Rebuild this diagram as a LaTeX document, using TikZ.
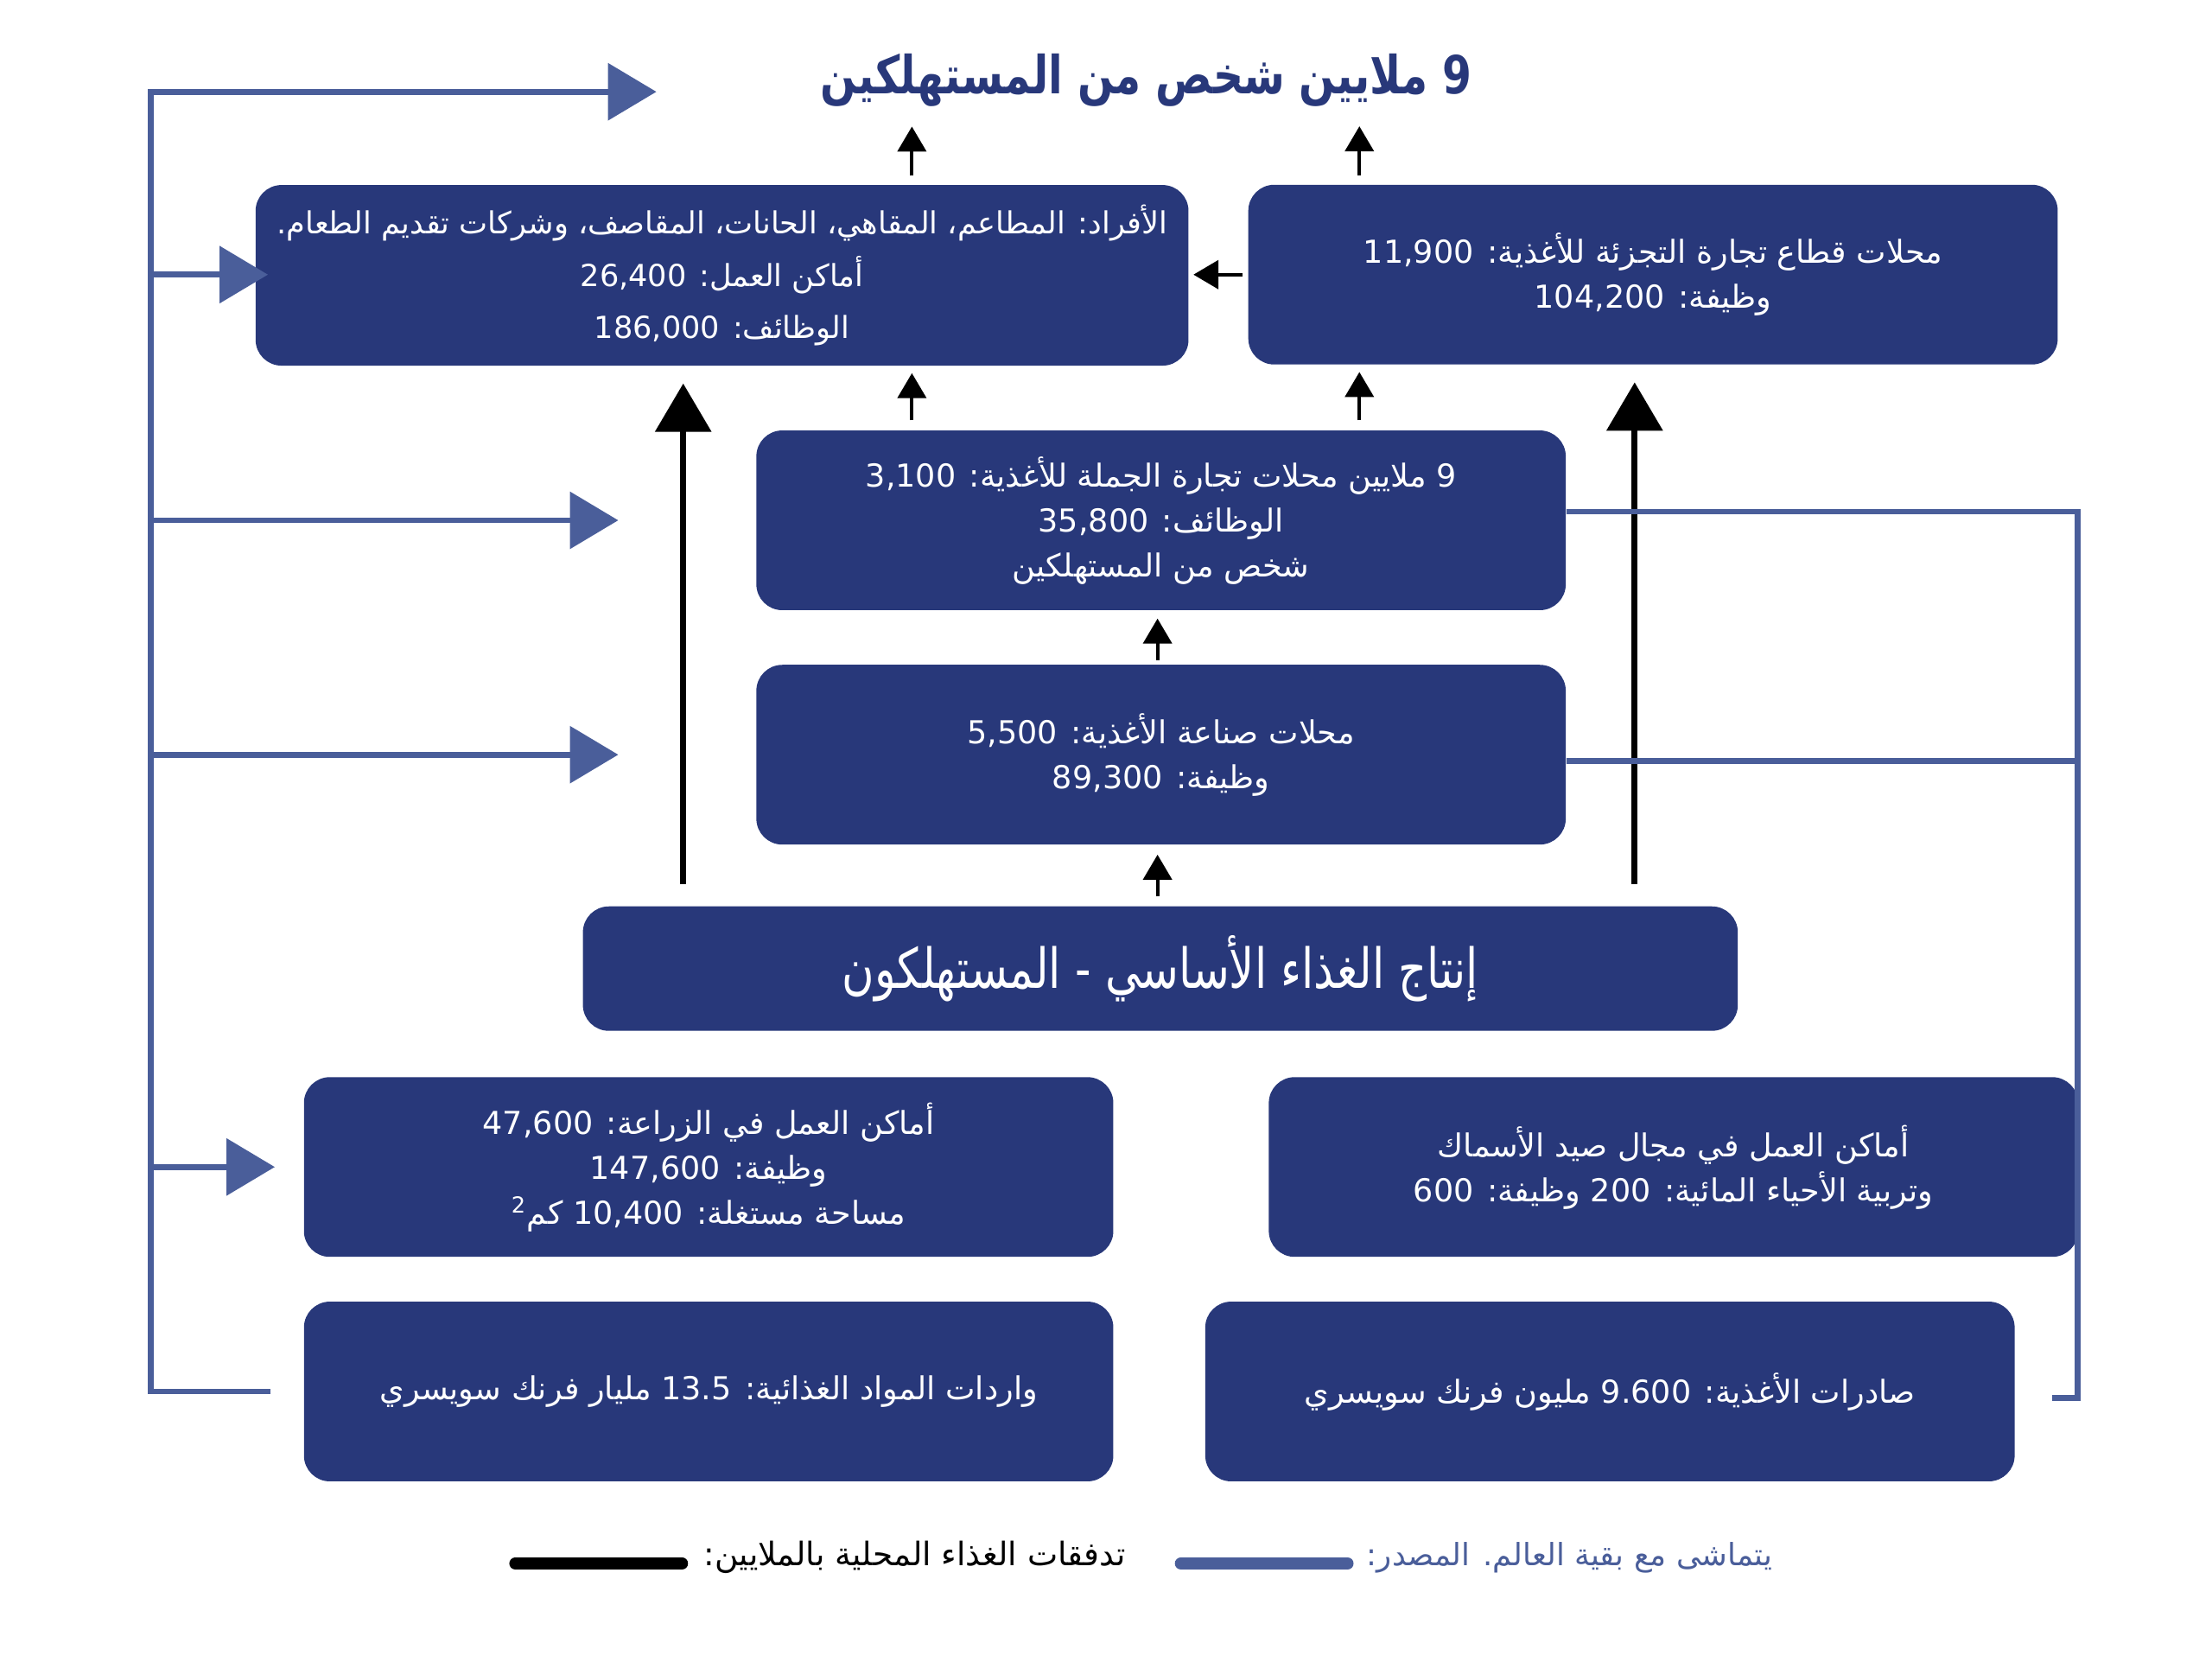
\documentclass[tikz,border=0pt]{standalone}
\usepackage{fontspec}
\usetikzlibrary{arrows.meta}
\TeXXeTstate=1
\newfontfamily\arabicfont[Script=Arabic]{DejaVu Sans}
\newfontfamily\arabicnarrow[Script=Arabic, FakeStretch=0.8]{DejaVu Sans}
\newcommand{\ar}[1]{{\arabicfont\beginR #1\endR}}
\newcommand{\arn}[1]{{\arabicnarrow\beginR #1\endR}}
\definecolor{navy}{RGB}{40,56,122}
\definecolor{steel}{RGB}{74,94,154}

\begin{document}
\begin{tikzpicture}[x=0.01634cm, y=-0.01634cm, font=\fontsize{10.4}{14.8}\selectfont,
		box/.style={fill=navy, text=white, rounded corners=0.3cm, align=center, inner sep=0pt, minimum width=9.37cm, minimum height=2.08cm},
		flow/.style={-{Triangle[length=0.29cm, width=0.33cm]}, line width=1.2pt},
		bigflow/.style={-{Triangle[length=0.56cm, width=0.64cm]}, line width=2pt},
		world/.style={steel, line width=1.9pt, -{Triangle[length=0.56cm, width=0.65cm]}}]
		\useasboundingbox (0,0) rectangle (1567,1177);
		\path (646,0) coordinate (c1) (963,0) coordinate (c2) (820,0) coordinate (c3) (484,0) coordinate (k1) (1158,0) coordinate (k2) (107,65) coordinate (trunk) (1472,990) coordinate (rside);
		% boxes
		\node[navy, font=\fontsize{17.3}{22}\selectfont\bfseries] (title) at (812,57) {\arn{9 ملايين شخص من المستهلكين}};
		\node[box, minimum width=10.80cm, minimum height=2.09cm, font=\fontsize{10}{17.2}\selectfont] (horeca) at (511.5,195) {\ar{الأفراد: المطاعم، المقاهي، الحانات، المقاصف، وشركات تقديم الطعام.}\\\ar{أماكن العمل: 26,400}\\\ar{الوظائف: 186,000}};
		\node[box] (retail) at (1171,194.5) {\ar{محلات قطاع تجارة التجزئة للأغذية: 11,900}\\\ar{وظيفة: 104,200}};
		\node[box] (wholesale) at (822.5,368.5) {\ar{9 ملايين محلات تجارة الجملة للأغذية: 3,100}\\\ar{الوظائف: 35,800}\\\ar{شخص من المستهلكين}};
		\node[box] (industry) at (822.5,534.5) {\ar{محلات صناعة الأغذية: 5,500}\\\ar{وظيفة: 89,300}};
		\node[box, minimum width=13.37cm, minimum height=1.44cm, font=\fontsize{18.2}{20}\selectfont] (primary) at (822,686) {\arn{إنتاج الغذاء الأساسي - المستهلكون}};
		\node[box] (agri) at (502,826.5) {\ar{أماكن العمل في الزراعة: 47,600}\\\ar{وظيفة: 147,600}\\\ar{مساحة مستغلة: 10,400 كم\textsuperscript{2}}};
		\node[box] (fish) at (1185.5,826.5) {\ar{أماكن العمل في مجال صيد الأسماك}\\\ar{وتربية الأحياء المائية: 200 وظيفة: 600}};
		\node[box] (imports) at (502,985.5) {\ar{واردات المواد الغذائية: 13.5 مليار فرنك سويسري}};
		\node[box] (exports) at (1140.5,985.5) {\ar{صادرات الأغذية: 9.600 مليون فرنك سويسري}};
		% domestic flows
		\draw[flow, shorten <=0.1cm] (horeca.north -| c1) -- ++(0,-41);
		\draw[flow, shorten <=0.1cm] (retail.north -| c2) -- ++(0,-41);
		\foreach \c/\b in {c1/horeca, c2/retail}{
		\draw[flow, shorten <=0.11cm, shorten >=0.08cm] (wholesale.north -| \c) -- (\b.south -| \c);
		}
		\draw[flow, shorten <=0.05cm, shorten >=0.09cm] (industry.north -| c3) -- (wholesale.south -| c3);
		\draw[flow, shorten <=0.11cm, shorten >=0.11cm] (primary.north -| c3) -- (industry.south -| c3);
		\draw[flow, shorten <=0.06cm, shorten >=0.05cm] (retail.west) -- (retail.west -| horeca.east);
		\draw[bigflow, shorten <=0.25cm, shorten >=0.2cm] (primary.north -| k1) -- (horeca.south -| k1);
		\draw[bigflow, shorten <=0.25cm, shorten >=0.2cm] (primary.north -| k2) -- (retail.south -| k2);
		% rest of the world
		\draw[world] ([xshift=-0.38cm]imports.west) -| (trunk) -- ++(358,0);
		\draw[world] (trunk |- retail.west) -- ([xshift=0.15cm]retail.west -| horeca.west);
		\foreach \b in {wholesale, industry}{
		\draw[world] (trunk |- \b.west) -- ++(331,0);
		}
		\draw[world] (trunk |- agri.west) -- ([xshift=-0.33cm]agri.west);
		\draw[world, -] ([yshift=0.1cm]wholesale.east) -| (rside) -- ++(-18,0);
		\draw[world, -] ([yshift=-0.07cm]industry.east) -- ([yshift=-0.07cm]industry.east -| rside);
		% key
		\node[font=\fontsize{10.65}{14}\selectfont] (keydom) at (648,1103) {\ar{تدفقات الغذاء المحلية بالملايين:}};
		\node[steel, font=\fontsize{10.1}{14}\selectfont] (keyworld) at (1112,1103) {\ar{يتماشى مع بقية العالم. المصدر:}};
		\draw[line width=4pt, line cap=round] ([xshift=-0.13cm, yshift=-0.07cm]keydom.west) -- ++(-118,0);
		\draw[steel, line width=4pt, line cap=round] ([xshift=-0.1cm, yshift=-0.07cm]keyworld.west) -- ++(-118,0);
	\end{tikzpicture}
\end{document}
